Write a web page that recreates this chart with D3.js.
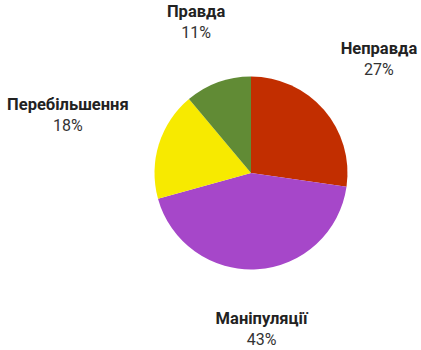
<!DOCTYPE html>
<html>
<head>
<meta charset="utf-8">
<script src="https://cdn.jsdelivr.net/npm/d3@7"></script>
<style>
  body { margin: 0; background: #fff; }
  text { font-family: Roboto, "Noto Sans", sans-serif; }
</style>
</head>
<body>
<svg id="chart" width="421" height="350"></svg>
<script>
// chart data
var categories = ['Неправда', 'Маніпуляції', 'Перебільшення', 'Правда'];
var values = [27, 43, 18, 11];
var colors = ['#c22e00', '#a647c9', '#f7ea00', '#618b35'];

var width = 421, height = 350;
var cx = 251, cy = 173, radius = 96.5;
var labelRadius = 131;
var labelGap = 28;

var svg = d3.select('#chart');
var g = svg.append('g').attr('transform', 'translate(' + cx + ',' + cy + ')');

var pie = d3.pie().sort(null).value(function(d){ return d; });
var arcs = pie(values);
var arc = d3.arc().innerRadius(0).outerRadius(radius);

g.selectAll('path')
    .data(arcs)
    .enter()
    .append('path')
    .attr('d', arc)
    .attr('fill', function(d, i){ return colors[i]; });

// labels: point on the mid angle, box pushed out sideways and above/below
// (labels close to the horizontal get less vertical push)
arcs.forEach(function(d, i){
    var a = (d.startAngle + d.endAngle) / 2;
    var lg = g.append('g');
    lg.append('text')
        .attr('text-anchor', 'middle')
        .attr('y', 0)
        .attr('font-size', 16.5)
        .attr('font-weight', 'bold')
        .attr('fill', '#222')
        .text(categories[i]);
    lg.append('text')
        .attr('text-anchor', 'middle')
        .attr('y', 21)
        .attr('font-size', 16)
        .attr('fill', '#333')
        .text(values[i] + '%');
    var bb = lg.node().getBBox();
    var c = Math.cos(a);
    var push = labelGap * Math.min(1, 2.3 * Math.abs(c));
    var bx = Math.sin(a) * (labelRadius + bb.width / 2);
    var by = -c * labelRadius - (c > 0 ? push : -push);
    var ox = bx - (bb.x + bb.width / 2);
    var oy = by - (bb.y + bb.height / 2);
    // keep the box inside the svg
    var bottom = cy + oy + bb.y + bb.height;
    if (bottom > height - 1) oy -= bottom - (height - 1);
    var top = cy + oy + bb.y;
    if (top < 1) oy += 1 - top;
    lg.attr('transform', 'translate(' + ox + ',' + oy + ')');
});
</script>
</body>
</html>
